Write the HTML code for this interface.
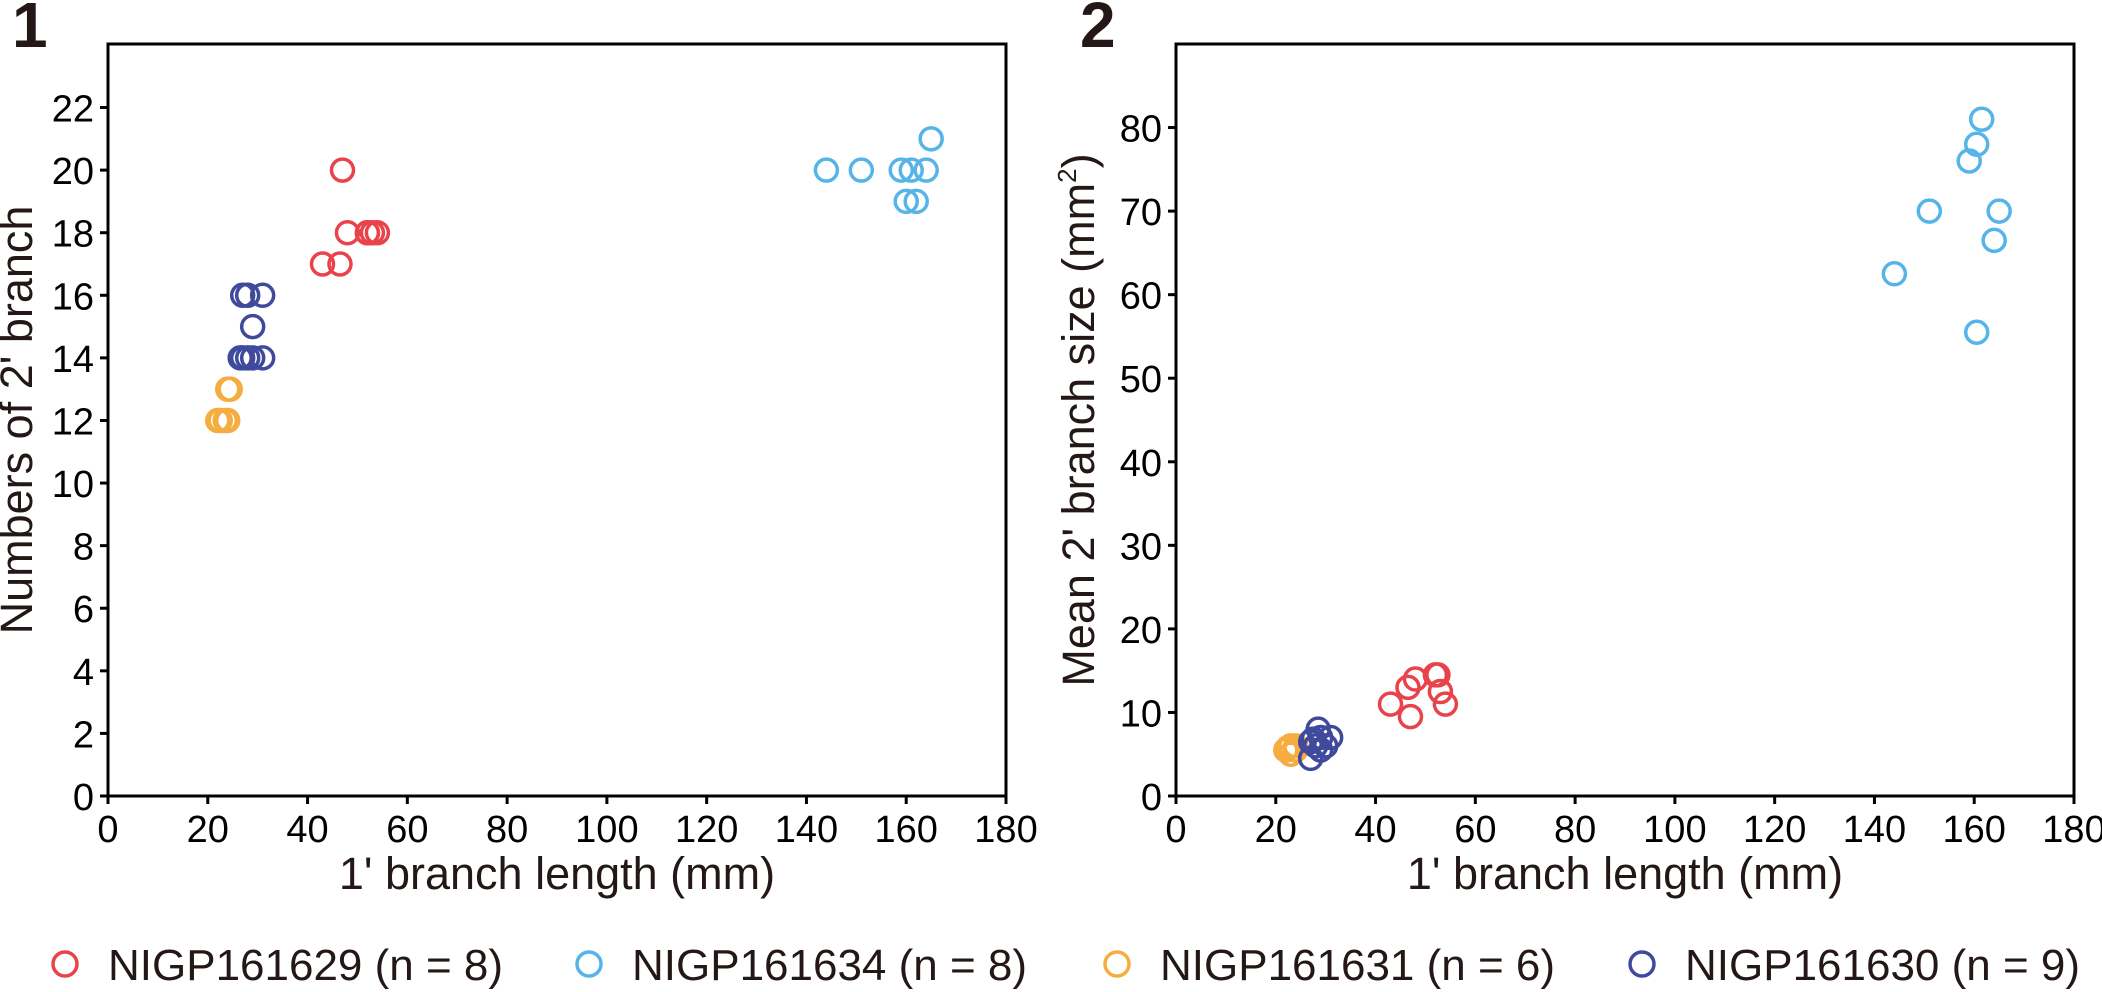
<!DOCTYPE html>
<html><head><meta charset="utf-8"><style>
html,body{margin:0;padding:0;background:#fff;}
svg{display:block;font-family:"Liberation Sans",Arial,sans-serif;}
</style></head><body>
<svg id="chart" width="2102" height="992" viewBox="0 0 2102 992" xmlns="http://www.w3.org/2000/svg">
<text x="12" y="47" font-size="64" font-weight="bold" fill="#231815">1</text>
<text x="1080" y="47" font-size="64" font-weight="bold" fill="#231815">2</text>
<g id="p1"></g>
<g id="p2"></g>
<g id="legend"></g>
</svg>
<script>
const seriesNames = ["NIGP161629 (n = 8)","NIGP161634 (n = 8)","NIGP161631 (n = 6)","NIGP161630 (n = 9)"];
const seriesColors = ["#e8434a","#56b4e9","#f5ad41","#3f4a9c"];
const xTicks = [0,20,40,60,80,100,120,140,160,180];
const y1Ticks = [0,2,4,6,8,10,12,14,16,18,20,22];
const y2Ticks = [0,10,20,30,40,50,60,70,80];
// Panel 1: length vs count
const p1RedX = [47,48,52,53,54,43,46.5,52];
const p1RedY = [20,18,18,18,18,17,17,18];
const p1CyanX = [144,151,159,161,164,165,160,162];
const p1CyanY = [20,20,20,20,20,21,19,19];
const p1OrangeX = [24,24.5,22,22.5,23.5,24];
const p1OrangeY = [13,13,12,12,12,12];
const p1NavyX = [27,28,31,29,27,28,29,31,26.5];
const p1NavyY = [16,16,16,15,14,14,14,14,14];
// Panel 2: length vs mean size
const p2RedX = [43,47,46.5,48,52,52.5,53,54];
const p2RedY = [11,9.5,13,14,14.5,14.5,12.5,11];
const p2CyanX = [144,151,159,160.5,161.5,165,164,160.5];
const p2CyanY = [62.5,70,76,78,81,70,66.5,55.5];
const p2OrangeX = [22,23,23,24,24,22.5];
const p2OrangeY = [5.5,6,5,5.5,6,5.8];
const p2NavyX = [27,27,28,28.5,29,30,31,29,27.5];
const p2NavyY = [4.5,6.5,6,8,7,6,7,5.5,6.8];

const NS="http://www.w3.org/2000/svg";
function mk(tag,attrs,parent){const e=document.createElementNS(NS,tag);for(const k in attrs)e.setAttribute(k,attrs[k]);parent.appendChild(e);return e;}

function drawPlot(g,x0,x1,yTop,yBot,xMax,yMax,yTicks,yTitle,titleX,series,sup){
  const sx=v=>x0+(v/xMax)*(x1-x0);
  const sy=v=>yBot-(v/yMax)*(yBot-yTop);
  const frame=mk('rect',{x:x0,y:yTop,width:x1-x0,height:yBot-yTop,fill:'none',stroke:'#000','stroke-width':3},g);
  
  
  xTicks.forEach(t=>{
    const l=mk('line',{x1:sx(t),x2:sx(t),y1:yBot,y2:yBot+8,stroke:'#000','stroke-width':3},g);
    
    
    const tx=mk('text',{x:sx(t),y:yBot+46,'font-size':38,'text-anchor':'middle',fill:'#000'},g);
    
    
    tx.textContent=t;
  });
  yTicks.forEach(t=>{
    const l=mk('line',{x1:x0-8,x2:x0,y1:sy(t),y2:sy(t),stroke:'#000','stroke-width':3},g);
    
    
    const tx=mk('text',{x:x0-14,y:sy(t)+14,'font-size':38,'text-anchor':'end',fill:'#000'},g);
    
    
    tx.textContent=t;
  });
  const xt=mk('text',{x:(x0+x1)/2,y:889,'font-size':45,'text-anchor':'middle',fill:'#231815'},g);
  
  
  xt.textContent="1' branch length (mm)";
  const cy=(yTop+yBot)/2;
  const yt=mk('text',{x:titleX,y:cy,'font-size':45,'text-anchor':'middle',fill:'#231815',transform:`rotate(-90 ${titleX} ${cy})`},g);
  
  
  yt.textContent=yTitle;
  if(sup){const ts=mk('tspan',{'font-size':26,dy:-18},yt);ts.textContent='2';const t2=mk('tspan',{dy:18},yt);t2.textContent=')';}
  series.forEach((s,i)=>{
    s[0].forEach((xv,j)=>{
      const c=mk('circle',{cx:sx(xv),cy:sy(s[1][j]),r:11,fill:'none',stroke:seriesColors[i],'stroke-width':3.5},g);
      
      
    });
  });
}
drawPlot(document.getElementById('p1'),108,1006,44,796,180,24.03,y1Ticks,"Numbers of 2' branch",32,
  [[p1RedX,p1RedY],[p1CyanX,p1CyanY],[p1OrangeX,p1OrangeY],[p1NavyX,p1NavyY]],false);
drawPlot(document.getElementById('p2'),1176,2074,44,796,180,90,y2Ticks,"Mean 2' branch size (mm",1094,
  [[p2RedX,p2RedY],[p2CyanX,p2CyanY],[p2OrangeX,p2OrangeY],[p2NavyX,p2NavyY]],true);

const lg=document.getElementById('legend');
const legendX=[65,589,1117,1642];
seriesNames.forEach((n,i)=>{
  const e=mk('g',{},lg);
  
  
  mk('circle',{cx:legendX[i],cy:964,r:12,fill:'none',stroke:seriesColors[i],'stroke-width':3.5},e);
  const t=mk('text',{x:legendX[i]+43,y:980,'font-size':44,fill:'#231815'},e);
  t.textContent=n;
});
</script>
</body></html>
